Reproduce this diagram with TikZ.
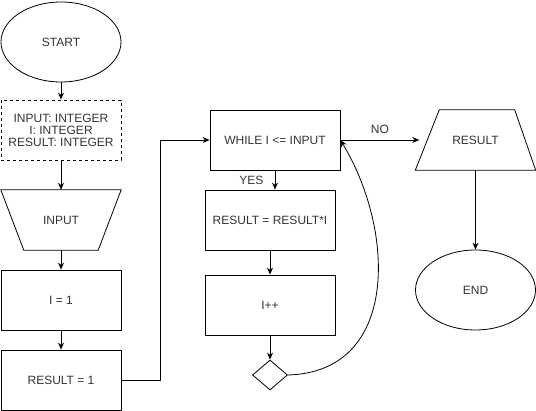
\documentclass[tikz,border=0pt]{standalone}
\usepackage{fontspec}
\setmainfont{Liberation Sans}
\usetikzlibrary{shapes.geometric,arrows.meta}
\begin{document}
\begin{tikzpicture}[x=1pt,y=-1pt,
  every node/.style={font=\fontsize{12}{14}\selectfont, text=black!80},
  base/.style={draw=black, line width=0.8pt, inner sep=0pt},
  proc/.style={base, rectangle, minimum width=120pt, minimum height=60pt},
  proc2/.style={base, rectangle, minimum width=130pt, minimum height=60pt},
  term/.style={base, ellipse, minimum width=120pt, minimum height=80pt},
  box/.style={rectangle, inner sep=0pt, minimum width=120pt, minimum height=60pt},
  trapline/.style={draw=black, line width=0.8pt},
  conn/.style={line width=0.8pt, -{Stealth[length=7pt,width=6pt]}},
  lab/.style={font=\fontsize{12}{14}\selectfont}]
\useasboundingbox (0,0) rectangle (536,411);
\node[term] (start) at (61,42) {START};
\node[proc, dashed, align=center, font=\fontsize{12}{12}\selectfont] (decl) at (61,130) {INPUT: INTEGER\\I: INTEGER\\RESULT: INTEGER};
\node[box] (inp) at (61,220) {INPUT};
\draw[trapline] (inp.north west) -- (inp.north east) -- ([xshift=-23pt]inp.south east) -- ([xshift=23pt]inp.south west) -- cycle;
\node[proc] (i1) at (61,300) {I = 1};
\node[proc] (r1) at (61,380) {RESULT = 1};
\node[proc2] (w) at (275,140) {WHILE I <= INPUT};
\node[proc2] (rr) at (270,220) {RESULT = RESULT*I};
\node[proc2] (ipp) at (270,305) {I++};
\node[base, diamond, minimum width=35pt, minimum height=30pt] (dia) at (270,375) {};
\node[box] (res) at (475.5,140) {RESULT};
\draw[trapline] ([xshift=24pt]res.north west) -- ([xshift=-21pt]res.north east) -- (res.south east) -- (res.south west) -- cycle;
\node[term] (end) at (475.5,290) {END};

\draw[conn] (start) -- (decl);
\draw[conn] (decl) -- (inp);
\draw[conn] (inp) -- (i1);
\draw[conn] (i1) -- (r1);
\draw[conn] (r1.east) -- ++(39,0) |- (w.west);
\draw[conn] (w.south) -- (w.south |- rr.north) node[lab, pos=0.5, left=8pt] {YES};
\draw[conn] (rr) -- (ipp);
\draw[conn] (ipp) -- (dia);
\draw[conn] (dia.east) .. controls (400,372) and (395,230) .. (w.east);
\draw[conn] (w.east) -- ([xshift=4pt]res.west) node[lab, midway, above=3pt] {NO};
\draw[conn] (res.south) -- (end.north);
\end{tikzpicture}
\end{document}
